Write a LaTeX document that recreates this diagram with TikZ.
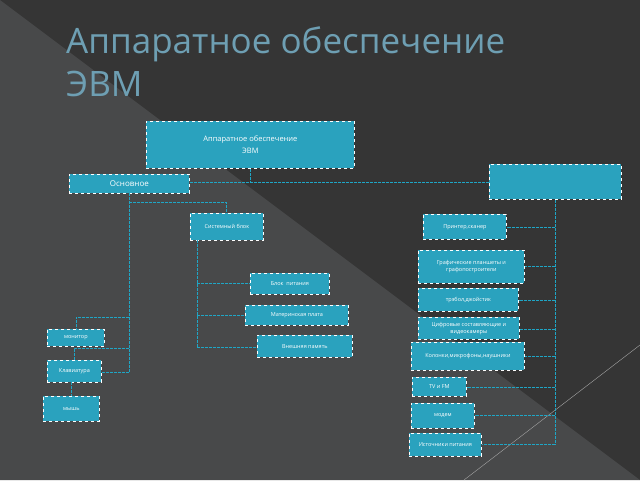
\documentclass[tikz,border=0pt]{standalone}
\usepackage{fontspec}
\setmainfont{Open Sans}
\definecolor{bgd}{HTML}{353535}
\definecolor{bgl}{HTML}{48494A}
\definecolor{boxc}{HTML}{2AA2BE}
\definecolor{lnc}{HTML}{1FA6C6}
\definecolor{ttl}{HTML}{6E9FB3}
\begin{document}
\begin{tikzpicture}[x=1pt,y=-1pt,
 bx/.style={draw=white,dashed,line width=0.8pt,fill=boxc,text=white,font=\fontsize{5.5}{7}\selectfont,align=center,inner sep=0pt,anchor=north west},
 ln/.style={draw=lnc,line width=1pt,dash pattern=on 3pt off 1pt}]
\useasboundingbox (0,0) rectangle (640,480);
\fill[bgd] (0,0) rectangle (640,480);
\fill[bgl] (0,0) -- (640,480) -- (0,480) -- cycle;
\draw[gray!70,line width=0.4pt] (464,480) -- (640,345);
\node[anchor=north west,text=ttl,font=\fontsize{35}{43}\selectfont,align=left,inner sep=0pt] (title) at (66,26) {Аппаратное обеспечение\\ЭВМ};
\node[bx,minimum width=208,minimum height=47,font=\fontsize{7.5}{12}\selectfont] (top) at (146,121) {Аппаратное обеспечение\\ЭВМ};
\node[bx,minimum width=120,minimum height=19,font=\fontsize{8}{9}\selectfont] (osn) at (69,174) {Основное};
\node[bx,minimum width=132,minimum height=35] (per) at (489,164) {};
\node[bx,minimum width=73,minimum height=27] (sb) at (190,213) {Системный блок};
\node[bx,minimum width=79,minimum height=21] (bp) at (250,273) {Блок\ \ питания};
\node[bx,minimum width=103,minimum height=20] (mp) at (245,305) {Материнская плата};
\node[bx,minimum width=95,minimum height=22] (vp) at (257,335) {Внешняя память};
\node[bx,minimum width=57,minimum height=17] (mon) at (47,329) {монитор};
\node[bx,minimum width=54,minimum height=22] (kl) at (47,360) {Клавиатура};
\node[bx,minimum width=56,minimum height=25] (mys) at (43,396) {мышь};
\node[bx,minimum width=83,minimum height=25] (pr) at (423,214) {Принтер,сканер};
\node[bx,minimum width=106,minimum height=33] (gr) at (418,250) {Графические планшеты и\\графопостроители};
\node[bx,minimum width=100,minimum height=23] (tr) at (418,288) {трэбол,джойстик};
\node[bx,minimum width=101,minimum height=22] (cf) at (418,317) {Цифровые составляющие и\\видеокамеры};
\node[bx,minimum width=113,minimum height=28] (kol) at (411,342) {Колонки,микрофоны,наушники};
\node[bx,minimum width=54,minimum height=19] (tv) at (412,377) {TV и FM};
\node[bx,minimum width=63,minimum height=25] (mod) at (411,403) {модем};
\node[bx,minimum width=72,minimum height=23] (ist) at (409,433) {Источники питания};
% connectors
\draw[ln] (top.south) -- (top.south |- 0,182);
\draw[ln] (osn.east |- 0,182) -- (per.west |- 0,182);
\coordinate (ob) at (129,193);
\draw[ln] (ob) -- (129,372);
\draw[ln] (129,202) -- (226,202) -- (sb.north -| 226,0);
\draw[ln] (197,240) -- (197,347);
\draw[ln] (197,283) -- (bp.west |- 0,283);
\draw[ln] (197,315) -- (mp.west |- 0,315);
\draw[ln] (197,347) -- (vp.west |- 0,347);
\draw[ln] (129,317) -- (76,317) -- (mon.north -| 76,0);
\draw[ln] (129,348) -- (74,348) -- (kl.north -| 74,0);
\draw[ln] (129,372) -- (kl.east |- 0,372);
\draw[ln] (71,382) -- (mys.north -| 71,0);
\draw[ln] (per.south -| 555,0) -- (555,444);
\draw[ln] (555,227) -- (pr.east |- 0,227);
\draw[ln] (555,266) -- (gr.east |- 0,266);
\draw[ln] (555,300) -- (tr.east |- 0,300);
\draw[ln] (555,329) -- (cf.east |- 0,329);
\draw[ln] (555,356) -- (kol.east |- 0,356);
\draw[ln] (555,387) -- (tv.east |- 0,387);
\draw[ln] (555,415) -- (mod.east |- 0,415);
\draw[ln] (555,444) -- (ist.east |- 0,444);
\end{tikzpicture}
\end{document}
